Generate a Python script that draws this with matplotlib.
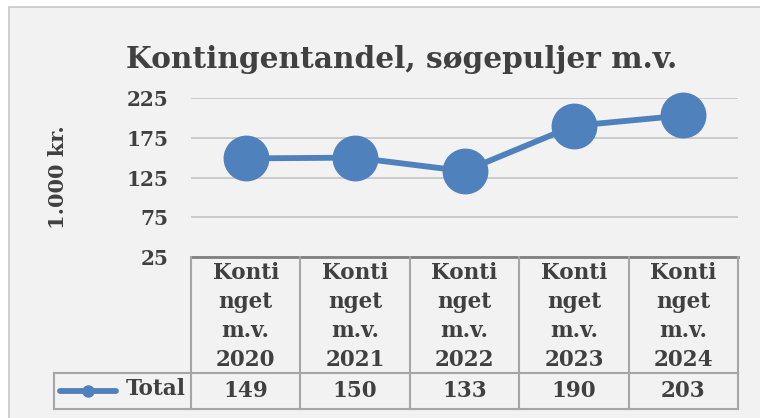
import matplotlib.pyplot as plt
from matplotlib.lines import Line2D
from matplotlib.patches import Rectangle

# Chart data
categories = ["Konti\nnget\nm.v.\n2020", "Konti\nnget\nm.v.\n2021", "Konti\nnget\nm.v.\n2022",
              "Konti\nnget\nm.v.\n2023", "Konti\nnget\nm.v.\n2024"]
totals = [149, 150, 133, 190, 203]
series_name = "Total"
yticks = [25, 75, 125, 175, 225]

W, H = 760, 418
BLUE = "#4f81bd"
TEXT = "#404040"
BG = "#f2f2f2"
FONT = "DejaVu Serif"


def fx(px):
    return px / W


def fy(py):
    return 1 - py / H


def main():
    plt.rcParams['font.family'] = FONT
    fig = plt.figure(figsize=(W / 100, H / 100), dpi=100)
    fig.patch.set_facecolor("white")

    # Chart area frame (behind the axes)
    fig.patches.append(Rectangle((fx(9), fy(430)), fx(770) - fx(9), fy(7) - fy(430),
                                 transform=fig.transFigure, facecolor=BG,
                                 edgecolor="#c8c8c8", lw=1.2, zorder=-10))

    fig.text(fx(402), fy(60), "Kontingentandel, søgepuljer m.v.", ha="center", va="center",
             fontsize=21.3, fontweight="bold", color=TEXT)

    # Plot area
    left, right, top, bottom = 191, 738, 98, 257
    ax = fig.add_axes([fx(left), fy(bottom), fx(right) - fx(left), fy(top) - fy(bottom)])
    ax.set_facecolor("none")
    n = len(totals)
    xs = list(range(n))
    ax.set_xlim(-0.5, n - 0.5)
    ax.set_ylim(yticks[0], yticks[-1])
    ax.set_yticks(yticks)
    ax.set_yticklabels([str(t) for t in yticks], fontsize=14.5, fontweight="bold", color=TEXT)
    ax.tick_params(axis="y", length=0, pad=16)
    ax.set_xticks([])
    for s in ax.spines.values():
        s.set_visible(False)
    ax.grid(axis="y", color="#c4c4c4", lw=1.2)
    ax.set_axisbelow(True)
    ax.plot(xs, totals, color=BLUE, lw=4.2, marker="o", markersize=32, clip_on=False, zorder=3)
    ax.set_ylabel("1.000 kr.", fontsize=15, fontweight="bold", color=TEXT, labelpad=42)

    # Data table
    tleft, ttop, tbottom, trow = 54, 257, 409, 373
    tax = fig.add_axes([fx(tleft), fy(tbottom), fx(right) - fx(tleft), fy(ttop) - fy(tbottom)])
    tax.set_facecolor("none")
    col_w = (right - left) / n
    xmin = -0.5 - (left - tleft) / col_w
    tax.set_xlim(xmin, n - 0.5)
    tax.set_ylim(0, 1)
    tax.axis("off")
    ysplit = (tbottom - trow) / (tbottom - ttop)
    lc = "#a6a6a6"
    # header block
    tax.plot([-0.5, n - 0.5], [1, 1], color="#808080", lw=2, clip_on=False)
    for i in range(n + 1):
        tax.plot([i - 0.5, i - 0.5], [0, 1], color=lc, lw=1.5, clip_on=False)
    tax.plot([xmin, n - 0.5], [ysplit, ysplit], color=lc, lw=1.5, clip_on=False)
    tax.plot([xmin, n - 0.5], [0, 0], color=lc, lw=1.5, clip_on=False)
    tax.plot([xmin, xmin], [0, ysplit], color=lc, lw=1.5, clip_on=False)
    for i, (cat, v) in enumerate(zip(categories, totals)):
        tax.text(i, (1 + ysplit) / 2 - 0.01, cat, ha="center", va="center", fontsize=15.5,
                 fontweight="bold", color=TEXT, linespacing=1.42)
        tax.text(i, ysplit / 2, str(v), ha="center", va="center", fontsize=15.5,
                 fontweight="bold", color=TEXT)
    # legend key
    kx0 = xmin + 6 / col_w
    kx1 = xmin + 62 / col_w
    tax.add_line(Line2D([kx0, kx1], [ysplit / 2, ysplit / 2], color=BLUE, lw=4.2,
                        solid_capstyle="round", clip_on=False))
    tax.plot([(kx0 + kx1) / 2], [ysplit / 2], marker="o", color=BLUE, markersize=8, clip_on=False)
    tax.text(-0.5 - 5 / col_w, ysplit / 2 + 0.01, series_name, ha="right", va="center",
             fontsize=15.5, fontweight="bold", color=TEXT)

    fig.savefig("out.png", dpi=100, facecolor=fig.get_facecolor())


if __name__ == "__main__":
    main()
